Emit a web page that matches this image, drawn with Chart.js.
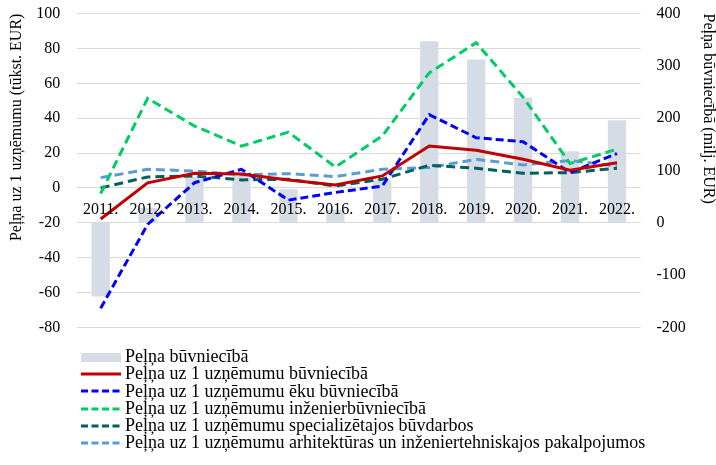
<!DOCTYPE html>
<html>
<head>
<meta charset="utf-8">
<script src="https://cdn.jsdelivr.net/npm/chart.js@4"></script>
<style>
  body { margin: 0; background: #fff; }
  #wrap { position: relative; width: 716px; height: 465px; overflow: hidden; }
  #box { position: absolute; left: 0; top: -13px; width: 716px; height: 367px; }
  #legend { position: absolute; left: 81px; top: 348px; font-family: 'Liberation Serif', serif; font-size: 18px; color: #000; }
  #legend .row { height: 17.3px; line-height: 17.3px; white-space: nowrap; display: flex; align-items: center; }
  #legend svg { width: 40px; height: 12px; margin-right: 4px; flex: none; }
</style>
</head>
<body>
<div id="wrap">
  <div id="box"><canvas id="chart"></canvas></div>
  <div id="legend"></div>
</div>
<script>
const years = ['2011.', '2012.', '2013.', '2014.', '2015.', '2016.', '2017.', '2018.', '2019.', '2020.', '2021.', '2022.'];

// milj. EUR, right axis
const profitTotal = [-141, 29, 88, 90, 64, 25, 81, 347, 312, 239, 137, 196];

// tūkst. EUR per company, left axis
const perCompany = [-17.8, 2.9, 8.4, 8, 4.6, 1.7, 6.9, 24, 21.6, 16.4, 10.2, 14.5];
const perBuildings = [-69, -20.9, 3, 10.7, -7, -2.6, 1.1, 42, 28.8, 26.5, 8.8, 19.7];
const perCivil = [-3.2, 51.4, 35.5, 24, 32, 12, 29.8, 66, 83.3, 52, 14, 22.2];
const perSpecial = [0, 6.3, 6.9, 4.6, 5, 1.1, 5, 13, 11.3, 8.4, 8.8, 11.3];
const perArch = [5.9, 10.7, 9.7, 7.5, 8.2, 6.5, 10.7, 11.7, 16.4, 13.2, 15.7, 12.6];

Chart.defaults.font.family = "'Liberation Serif', serif";
Chart.defaults.font.size = 16;
Chart.defaults.color = '#000';

function line(label, data, color, dash) {
  return {
    type: 'line', label, data, yAxisID: 'y',
    borderColor: color, backgroundColor: color,
    borderWidth: 3, borderDash: dash, pointRadius: 0, tension: 0, order: 1
  };
}

const datasets = [
  {
    type: 'bar', label: 'Peļņa būvniecībā', data: profitTotal, yAxisID: 'y1',
    backgroundColor: '#d6dce5', barPercentage: 0.78, categoryPercentage: 0.5, order: 10
  },
  line('Peļņa uz 1 uzņēmumu būvniecībā', perCompany, '#c00000', []),
  line('Peļņa uz 1 uzņēmumu ēku būvniecībā', perBuildings, '#0000ff', [8, 4]),
  line('Peļņa uz 1 uzņēmumu inženierbūvniecībā', perCivil, '#00cc66', [9, 5]),
  line('Peļņa uz 1 uzņēmumu specializētajos būvdarbos', perSpecial, '#00605a', [9, 5]),
  line('Peļņa uz 1 uzņēmumu arhitektūras un inženiertehniskajos pakalpojumos', perArch, '#5b9bd5', [9, 5])
];

new Chart(document.getElementById('chart'), {
  data: { labels: years, datasets },
  options: {
    responsive: true,
    maintainAspectRatio: false,
    animation: false,
    layout: { padding: { top: 5, bottom: 5, left: 0, right: -5 } },
    plugins: { legend: { display: false }, tooltip: { enabled: false } },
    scales: {
      x: {
        position: { y: 0 },
        offset: true,
        grid: { display: false },
        border: { display: false },
        ticks: { padding: 4, maxRotation: 0, autoSkip: false, z: 1 }
      },
      y: {
        position: 'left',
        min: -80, max: 100,
        ticks: { stepSize: 20, padding: 17 },
        grid: { color: '#d9d9d9', lineWidth: 1, drawTicks: false },
        border: { display: false },
        title: {
          display: true, text: 'Peļņa uz 1 uzņēmumu (tūkst. EUR)', align: 'end',
          padding: { top: 7, bottom: -7 }
        }
      },
      y1: {
        position: 'right',
        min: -200, max: 400,
        ticks: { stepSize: 100, padding: 16 },
        grid: { display: false, drawTicks: false },
        border: { display: false },
        title: {
          display: true, text: 'Peļņa būvniecībā (milj. EUR)', align: 'end',
          padding: { top: 3, bottom: -3 }
        }
      }
    }
  }
});

// legend, one entry per row, built from the datasets
const legend = document.getElementById('legend');
datasets.forEach(ds => {
  const row = document.createElement('div');
  row.className = 'row';
  let sample;
  if (ds.type === 'bar') {
    sample = `<svg viewBox="0 0 40 12"><rect x="0" y="2" width="40" height="9" fill="${ds.backgroundColor}"/></svg>`;
  } else {
    sample = `<svg viewBox="0 0 40 12"><line x1="0" y1="6" x2="40" y2="6" stroke="${ds.borderColor}" stroke-width="3" stroke-dasharray="${ds.borderDash.length ? '7 3.5' : 'none'}"/></svg>`;
  }
  row.innerHTML = sample + '<span></span>';
  row.querySelector('span').textContent = ds.label;
  legend.appendChild(row);
});
</script>
</body>
</html>
